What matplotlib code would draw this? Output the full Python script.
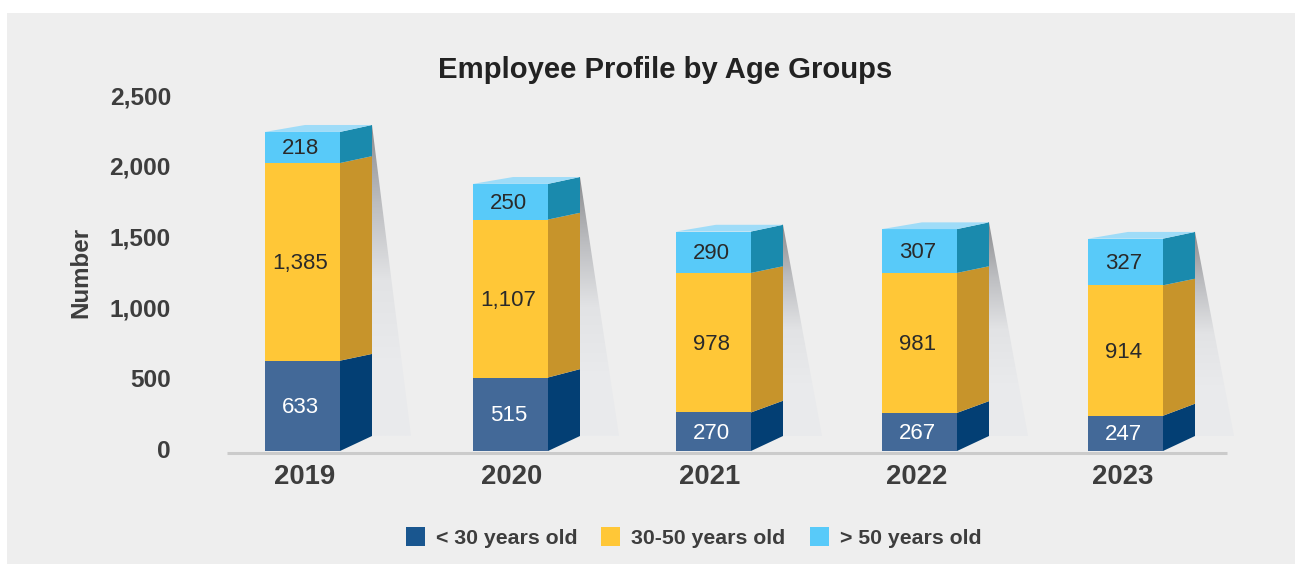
import numpy as np
import matplotlib
matplotlib.use('Agg')
import matplotlib.pyplot as plt
from matplotlib.patches import Polygon, Rectangle

plt.rcParams['font.family'] = ['Liberation Sans', 'DejaVu Sans']

years = ['2019', '2020', '2021', '2022', '2023']
under_30 = [633, 515, 270, 267, 247]
age_30_50 = [1385, 1107, 978, 981, 914]
over_50 = [218, 250, 290, 307, 327]
y_ticks = [0, 500, 1000, 1500, 2000, 2500]
legend_labels = ['< 30 years old', '30-50 years old', '> 50 years old']

W, H = 1295, 564
BASE_Y = 451
PX_PER_UNIT = 0.1427
TOP_VAL = 2500
bar_left = [265, 473, 676, 882, 1088]
year_x = [305, 512, 710, 917, 1123]
BAR_W = 75
DEPTH = 32
TOP_SKEW = 40
SHADOW_W = 39

front_cols = ['#436998', '#ffc737', '#58caf9']
side_cols = ['#033f74', '#c7942b', '#1a8aad']
TOP_COL = '#9fdcf8'
TEXT = '#3d3d3d'

fig = plt.figure(figsize=(W / 100, H / 100), dpi=100, facecolor='white')
fig.patches.append(Rectangle((7 / W, 0), (W - 7) / W, (H - 13) / H, transform=fig.transFigure,
                             facecolor='#eeeeee', edgecolor='none', zorder=-5))

# axes runs in pixels across, chart units up
top_px = BASE_Y - TOP_VAL * PX_PER_UNIT
ax = fig.add_axes([0, (H - BASE_Y) / H, 1, (BASE_Y - top_px) / H])
ax.set_xlim(0, W)
ax.set_ylim(0, TOP_VAL)
ax.patch.set_alpha(0)
for s in ax.spines.values():
    s.set_visible(False)
ax.set_xticks([])
ax.set_yticks([])


def rise(val):
    # side faces slope steeper near the floor
    return np.interp(val, [0, 250, 650, 2500], [15, 12, 6.5, 7]) / PX_PER_UNIT


grad = np.linspace(0, 1, 256).reshape(-1, 1)
shadow_cmap = matplotlib.colors.LinearSegmentedColormap.from_list(
    'shadow', ['#8a8b8e', '#bcbdc0', '#e2e3e5', '#e9eaec', '#eaebed'])

for i, year in enumerate(years):
    x0 = bar_left[i]
    x1 = x0 + BAR_W
    x2 = x1 + DEPTH
    total = under_30[i] + age_30_50[i] + over_50[i]

    # shadow behind the bar
    sh_top = total + rise(total)
    sh_bot = rise(0)
    im = ax.imshow(grad, extent=[x2 - 1, x2 + SHADOW_W, sh_bot, sh_top], cmap=shadow_cmap,
                   aspect='auto', origin='upper', zorder=1)
    clip = Polygon([(x2 - 1, sh_top), (x2, sh_top), (x2 + SHADOW_W, sh_bot), (x2 - 1, sh_bot)],
                   transform=ax.transData, facecolor='none', edgecolor='none')
    ax.add_patch(clip)
    im.set_clip_path(clip)

    bottom = 0
    for vals, fc, sc in zip([under_30, age_30_50, over_50], front_cols, side_cols):
        v = vals[i]
        ax.bar(x0 + BAR_W / 2, v, BAR_W, bottom=bottom, color=fc, linewidth=0, zorder=3)
        side = [(x1, bottom), (x2, bottom + rise(bottom)),
                (x2, bottom + v + rise(bottom + v)), (x1, bottom + v)]
        ax.add_patch(Polygon(side, closed=True, facecolor=sc, edgecolor='none', zorder=3))
        ax.text(x0 + BAR_W / 2 - 2, bottom + v / 2 - 1.5 / PX_PER_UNIT, f'{v:,}', ha='center',
                va='center', fontsize=16,
                color='white' if vals is under_30 else '#2a2a2a', zorder=5)
        bottom += v

    r = rise(total)
    top_face = [(x0, total), (x1, total), (x2, total + r), (x0 + TOP_SKEW, total + r)]
    ax.add_patch(Polygon(top_face, closed=True, facecolor=TOP_COL, edgecolor='none', zorder=3))

    ax.text(year_x[i], -185, year, ha='center', va='center', fontsize=19.8,
            fontweight='bold', color=TEXT, clip_on=False)

# floor line
ax.plot([227, 1227], [-1.5 / PX_PER_UNIT] * 2, color='#cbcbcb', lw=2.2, solid_capstyle='butt',
        zorder=2, clip_on=False)

for t in y_ticks:
    ax.text(171, t * 0.99, f'{t:,}', ha='right', va='center', fontsize=17.6, fontweight='bold',
            color=TEXT)

fig.text(81 / W, 1 - 272 / H, 'Number', rotation=90, ha='center', va='center', fontsize=17.4,
         fontweight='bold', color=TEXT)
fig.text(665 / W, 1 - 70 / H, 'Employee Profile by Age Groups', ha='center', va='center',
         fontsize=21.1, fontweight='bold', color='#222222')

# legend
leg_x = [406, 601, 810]
txt_x = [436, 631, 840]
leg_cols = ['#19568f', '#ffc737', '#58caf9']
for lx, tx, c, lab in zip(leg_x, txt_x, leg_cols, legend_labels):
    fig.patches.append(Rectangle((lx, H - 546), 19, 19, transform=None, facecolor=c, edgecolor='none'))
    fig.text(tx / W, 1 - 538.5 / H, lab, ha='left', va='center', fontsize=15.3, fontweight='bold',
             color=TEXT)

fig.savefig('out.png', dpi=100, facecolor='white')
